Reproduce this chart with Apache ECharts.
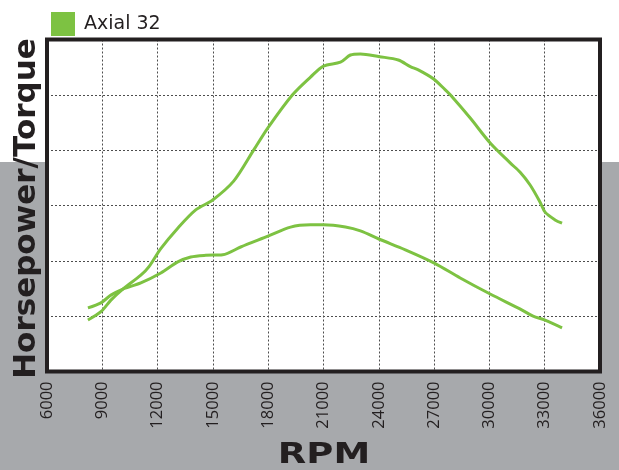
<!DOCTYPE html>
<html>
<head>
<meta charset="utf-8">
<script src="https://cdn.jsdelivr.net/npm/echarts@6/dist/echarts.min.js"></script>
<style>html,body{margin:0;padding:0;background:#fff;}#c{width:619px;height:470px;}</style>
</head>
<body>
<div id="c"></div>
<script>
const legendName = 'Axial 32';
const xTitle = 'RPM';
const yTitle = 'Horsepower/Torque';
const xTicks = [6000, 9000, 12000, 15000, 18000, 21000, 24000, 27000, 30000, 33000, 36000];

const hpRpm = [8220, 8924, 9466, 10115, 11090, 11523, 12173, 13094, 14068, 14989, 16126, 17209, 18021, 19321, 20296, 21000, 21920, 22462, 23003, 24032, 25061, 25710, 26143, 26956, 27606, 27877, 28960, 30043, 31126, 31668, 32209, 32751, 33021, 33563, 33941];
const hpVal = [0.93, 1.08, 1.29, 1.49, 1.74, 1.89, 2.22, 2.59, 2.92, 3.10, 3.44, 4.00, 4.42, 5.00, 5.32, 5.52, 5.59, 5.72, 5.74, 5.69, 5.63, 5.51, 5.45, 5.29, 5.09, 5.00, 4.58, 4.13, 3.77, 3.60, 3.37, 3.06, 2.88, 2.74, 2.68];

const tqRpm = [8220, 8924, 9466, 10115, 11090, 12173, 13094, 13798, 14610, 15531, 16505, 18021, 19212, 20296, 21000, 22191, 23003, 24032, 25440, 27010, 28418, 30042, 31775, 32370, 33020, 33941];
const tqVal = [1.15, 1.24, 1.38, 1.49, 1.60, 1.78, 1.98, 2.07, 2.10, 2.11, 2.25, 2.45, 2.61, 2.65, 2.65, 2.61, 2.54, 2.39, 2.20, 1.96, 1.69, 1.40, 1.11, 1.00, 0.93, 0.79];

const green = '#7dc242';
const ink = '#231f20';
const G = {left: 47, top: 39.5, right: 19, bottom: 98.5};

const chart = echarts.init(document.getElementById('c'), null, {renderer: 'canvas'});
chart.setOption({
  animation: false,
  backgroundColor: '#ffffff',
  graphic: [
    {type: 'rect', z: -10, silent: true, shape: {x: 0, y: 162, width: 619, height: 308}, style: {fill: '#a7a9ac'}},
    {type: 'rect', z: 20, silent: true,
      shape: {x: G.left, y: G.top, width: 619 - G.left - G.right, height: 470 - G.top - G.bottom},
      style: {fill: 'none', stroke: ink, lineWidth: 4}},
    {type: 'text', z: 10, x: 27, y: 208.5, rotation: Math.PI / 2,
      style: {text: yTitle, font: 'bold 31px "DejaVu Sans"', fill: ink, align: 'center', verticalAlign: 'middle'}},
    {type: 'text', z: 10, x: 324, y: 456, scaleX: 1.32,
      style: {text: xTitle, font: 'bold 28px "DejaVu Sans"', fill: ink, align: 'center', verticalAlign: 'middle'}}
  ],
  legend: {
    data: [legendName], left: 46, top: 7, icon: 'rect', itemWidth: 24, itemHeight: 24,
    textStyle: {color: ink, fontSize: 19, fontFamily: 'DejaVu Sans', padding: [0, 0, 0, 4]}
  },
  grid: {left: G.left, right: G.right, top: G.top, bottom: G.bottom, show: true, backgroundColor: '#ffffff', borderWidth: 0, z: 1},
  xAxis: {
    type: 'value', min: xTicks[0], max: xTicks[xTicks.length - 1], interval: 3000, z: 3,
    axisLine: {show: false}, axisTick: {show: false},
    axisLabel: {rotate: 90, margin: 10, color: ink, fontSize: 16.5, fontFamily: 'Open Sans', showMinLabel: true, showMaxLabel: true,
      formatter: v => String(v)},
    splitLine: {show: true, lineStyle: {type: [2, 2], color: '#4d4d4d', width: 1}}
  },
  yAxis: {
    type: 'value', min: 0, max: 6, interval: 1, z: 3,
    axisLine: {show: false}, axisTick: {show: false}, axisLabel: {show: false},
    splitLine: {show: true, lineStyle: {type: [2, 2], color: '#4d4d4d', width: 1}}
  },
  series: [
    {name: legendName, type: 'line', smooth: 0.3, showSymbol: false, color: green,
      lineStyle: {color: green, width: 3}, data: hpRpm.map((r, i) => [r, hpVal[i]]), z: 5},
    {name: legendName, type: 'line', smooth: 0.3, showSymbol: false, color: green,
      lineStyle: {color: green, width: 3}, data: tqRpm.map((r, i) => [r, tqVal[i]]), z: 5}
  ]
});
</script>
</body>
</html>
